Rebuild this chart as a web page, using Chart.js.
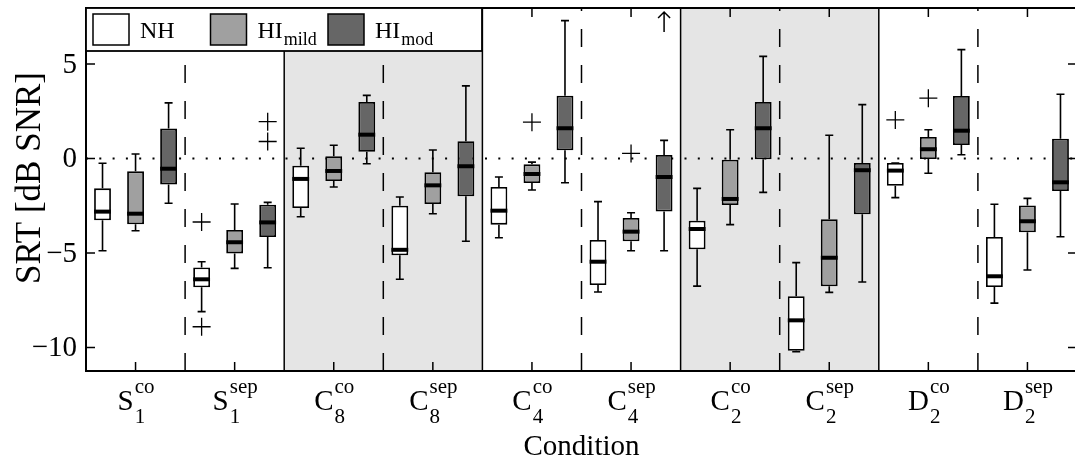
<!DOCTYPE html>
<html>
<head>
<meta charset="utf-8">
<script src="https://cdn.jsdelivr.net/npm/chart.js@4"></script>
<style>
  html, body { margin: 0; padding: 0; overflow: hidden; background: #fff; }
  #wrap { width: 1082px; height: 464px; }
</style>
</head>
<body>
<div id="wrap"><canvas id="srtChart"></canvas></div>
<script>
// --- data ---
const condBase = ['S', 'S', 'C', 'C', 'C', 'C', 'C', 'C', 'D', 'D'];
const condSub = ['1', '1', '8', '8', '4', '4', '2', '2', '2', '2'];
const condSup = ['co', 'sep', 'co', 'sep', 'co', 'sep', 'co', 'sep', 'co', 'sep'];
const conditions = condBase.map((b, i) => b + condSub[i] + condSup[i]);

const groupNames = ['NH', 'HI', 'HI'];
const groupSub = ['', 'mild', 'mod'];
const groupColors = ['#ffffff', '#a0a0a0', '#666666'];

// [low whisker, q1, median, q3, high whisker] per condition
const nhBox = [
  [-4.88, -3.27, -2.81, -1.58, -0.25],
  [-8.10, -6.81, -6.39, -5.76, -5.46],
  [-3.08, -2.62, -1.08, -0.38, 0.54],
  [-6.39, -5.12, -4.83, -2.50, -2.04],
  [-4.19, -3.50, -2.76, -1.51, -0.98],
  [-7.06, -6.69, -5.46, -4.31, -2.28],
  [-6.75, -4.80, -3.73, -3.29, -1.58],
  [-10.22, -10.17, -8.56, -7.29, -5.51],
  [-2.07, -1.44, -0.64, -0.24, -0.24],
  [-7.65, -6.80, -6.23, -4.15, -2.42]
];
const mildBox = [
  [-3.82, -3.48, -2.92, -0.68, 0.24],
  [-5.81, -5.02, -4.43, -3.78, -2.41],
  [-1.51, -1.19, -0.66, 0.12, 0.70],
  [-2.92, -2.41, -1.42, -0.73, 0.45],
  [-1.67, -1.30, -0.82, -0.31, -0.19],
  [-4.88, -4.38, -3.87, -3.15, -2.87],
  [-3.50, -2.46, -2.14, -0.06, 1.52],
  [-7.08, -6.76, -5.25, -3.22, 1.23],
  [-0.78, -0.03, 0.49, 1.14, 1.52],
  [-5.90, -3.90, -3.32, -2.48, -2.11]
];
const modBox = [
  [-2.37, -1.37, -0.54, 1.58, 2.94],
  [-5.78, -4.15, -3.38, -2.44, -2.32],
  [-0.28, 0.36, 1.26, 2.99, 3.34],
  [-4.38, -2.00, -0.41, 0.91, 3.84],
  [-1.28, 0.43, 1.60, 3.32, 7.29],
  [-4.88, -2.81, -0.98, 0.19, 0.96],
  [-1.79, -0.04, 1.60, 2.99, 5.40],
  [-6.53, -2.95, -0.62, -0.24, 2.85],
  [0.20, 0.71, 1.47, 3.31, 5.76],
  [-4.14, -1.72, -1.26, 1.05, 3.40]
];
const boxes = [nhBox, mildBox, modBox];

// [condition index, group index, value]
const outliers = [
  [1, 0, -3.36], [1, 0, -8.90],
  [1, 2, 1.95], [1, 2, 0.90],
  [4, 1, 1.92],
  [5, 1, 0.27],
  [8, 0, 2.04], [8, 1, 3.19]
];
// outlier beyond the top of the axis: [condition index, group index]
const offTop = [[5, 2]];

const yTicks = [-10, -5, 0, 5];
const shadedPairs = [2, 6];

const SERIF = '"Liberation Serif", "Times New Roman", serif';

// --- drawing helpers ---
const sketch = {
  id: 'sketch',
  beforeDatasetsDraw(chart) {
    const { ctx, chartArea: a, scales: { x, y } } = chart;
    const half = (x.getPixelForValue(1) - x.getPixelForValue(0)) / 2;
    ctx.save();
    ctx.fillStyle = '#e5e5e5';
    shadedPairs.forEach(i => {
      const l = x.getPixelForValue(i) - half, r = x.getPixelForValue(i + 1) + half;
      ctx.fillRect(l, a.top, r - l, a.bottom - a.top);
    });
    ctx.strokeStyle = '#000';
    // zero line
    ctx.lineWidth = 2;
    ctx.setLineDash([2, 11.3]);
    const y0 = y.getPixelForValue(0);
    ctx.beginPath(); ctx.moveTo(a.left, y0); ctx.lineTo(a.right, y0); ctx.stroke();
    // separators
    ctx.lineWidth = 1.5;
    for (let i = 0; i < conditions.length - 1; i++) {
      const px = x.getPixelForValue(i) + half;
      ctx.setLineDash(i % 2 === 0 ? [18, 18] : []);
      ctx.beginPath(); ctx.moveTo(px, a.bottom); ctx.lineTo(px, a.top); ctx.stroke();
    }
    ctx.restore();
  },
  afterDatasetsDraw(chart) {
    const { ctx, chartArea: a, scales: { x, y } } = chart;
    ctx.save();
    ctx.strokeStyle = '#000';
    ctx.setLineDash([]);

    // whiskers + medians
    boxes.forEach((set, g) => {
      const meta = chart.getDatasetMeta(g);
      set.forEach((b, i) => {
        const el = meta.data[i];
        const cx = el.x, w = el.width;
        const [lo, q1, med, q3, hi] = b.map(v => y.getPixelForValue(v));
        ctx.lineWidth = 1.6;
        ctx.beginPath();
        ctx.moveTo(cx, q3); ctx.lineTo(cx, hi);
        ctx.moveTo(cx - 4, hi); ctx.lineTo(cx + 4, hi);
        ctx.moveTo(cx, q1); ctx.lineTo(cx, lo);
        ctx.moveTo(cx - 4, lo); ctx.lineTo(cx + 4, lo);
        ctx.stroke();
        ctx.lineWidth = 4;
        ctx.beginPath(); ctx.moveTo(cx - w / 2, med); ctx.lineTo(cx + w / 2, med); ctx.stroke();
      });
    });

    // outliers
    ctx.lineWidth = 1.3;
    outliers.forEach(([i, g, v]) => {
      const cx = chart.getDatasetMeta(g).data[i].x, py = y.getPixelForValue(v);
      ctx.beginPath();
      ctx.moveTo(cx - 9, py); ctx.lineTo(cx + 9, py);
      ctx.moveTo(cx, py - 9); ctx.lineTo(cx, py + 9);
      ctx.stroke();
    });
    offTop.forEach(([i, g]) => {
      const cx = chart.getDatasetMeta(g).data[i].x;
      ctx.lineWidth = 1.5;
      ctx.beginPath();
      ctx.moveTo(cx, a.top + 24); ctx.lineTo(cx, a.top + 4);
      ctx.moveTo(cx - 6, a.top + 10); ctx.lineTo(cx, a.top + 4); ctx.lineTo(cx + 6, a.top + 10);
      ctx.stroke();
    });

    // frame and inward ticks
    ctx.lineWidth = 2;
    ctx.strokeRect(a.left, a.top, a.right - a.left, a.bottom - a.top);
    ctx.lineWidth = 1.5;
    ctx.beginPath();
    yTicks.forEach(v => {
      const py = y.getPixelForValue(v);
      ctx.moveTo(a.left, py); ctx.lineTo(a.left + 9, py);
      ctx.moveTo(a.right, py); ctx.lineTo(a.right - 9, py);
    });
    conditions.forEach((c, i) => {
      const px = x.getPixelForValue(i);
      ctx.moveTo(px, a.bottom); ctx.lineTo(px, a.bottom - 9);
      ctx.moveTo(px, a.top); ctx.lineTo(px, a.top + 9);
    });
    ctx.stroke();

    // y tick labels
    ctx.fillStyle = '#000';
    ctx.font = '29px ' + SERIF;
    ctx.textAlign = 'right';
    ctx.textBaseline = 'middle';
    yTicks.forEach(v => {
      ctx.fillText(String(v).replace('-', '\u2212'), a.left - 9, y.getPixelForValue(v) + 1);
    });

    // legend
    const lw = 396, lh = 43;
    ctx.fillStyle = '#fff';
    ctx.fillRect(a.left, a.top, lw, lh);
    ctx.lineWidth = 1.8;
    ctx.strokeRect(a.left, a.top, lw, lh);
    ctx.textBaseline = 'alphabetic';
    ctx.textAlign = 'left';
    groupNames.forEach((name, g) => {
      const sx = a.left + 7 + g * 117.5;
      ctx.fillStyle = groupColors[g];
      ctx.fillRect(sx, a.top + 6, 36, 31);
      ctx.lineWidth = 1.5;
      ctx.strokeRect(sx, a.top + 6, 36, 31);
      ctx.fillStyle = '#000';
      ctx.font = '24px ' + SERIF;
      ctx.fillText(name, sx + 47, a.top + 30);
      const nw = ctx.measureText(name).width;
      if (groupSub[g]) {
        ctx.font = '18px ' + SERIF;
        ctx.fillText(groupSub[g], sx + 47 + nw + 1, a.top + 37);
      }
    });

    // x tick labels with sub/superscripts
    ctx.fillStyle = '#000';
    conditions.forEach((c, i) => {
      const px = x.getPixelForValue(i);
      ctx.font = '29px ' + SERIF;
      const wb = ctx.measureText(condBase[i]).width;
      ctx.font = '21px ' + SERIF;
      const ws = Math.max(ctx.measureText(condSup[i]).width, ctx.measureText(condSub[i]).width);
      const sx = px - (wb + ws) / 2;
      ctx.font = '29px ' + SERIF;
      ctx.fillText(condBase[i], sx, a.bottom + 39);
      ctx.font = '21px ' + SERIF;
      ctx.fillText(condSup[i], sx + wb + 1, a.bottom + 22);
      ctx.fillText(condSub[i], sx + wb + 1, a.bottom + 52);
    });

    // axis titles
    ctx.textAlign = 'center';
    ctx.font = '29px ' + SERIF;
    ctx.fillText('Condition', (a.left + a.right) / 2, a.bottom + 84);
    ctx.translate(40, a.top + 170);
    ctx.rotate(-Math.PI / 2);
    ctx.font = '35px ' + SERIF;
    ctx.fillText('SRT [dB SNR]', 0, 0);
    ctx.restore();
  }
};

new Chart(document.getElementById('srtChart'), {
  type: 'bar',
  data: {
    labels: conditions,
    datasets: boxes.map((set, g) => ({
      label: groupNames[g] + groupSub[g],
      data: set.map(b => [b[1], b[3]]),
      backgroundColor: groupColors[g],
      borderColor: '#000',
      borderWidth: 1.8,
      borderSkipped: false,
      categoryPercentage: 1.0,
      barPercentage: 0.51
    }))
  },
  options: {
    responsive: true,
    maintainAspectRatio: false,
    animation: false,
    events: [],
    layout: { padding: { top: 8, right: 5, left: 0, bottom: 0 } },
    plugins: { legend: { display: false }, tooltip: { enabled: false } },
    scales: {
      x: {
        grid: { display: false },
        border: { display: false },
        ticks: { display: false },
        afterFit: s => { s.height = 93; }
      },
      y: {
        min: -11.24,
        max: 7.96,
        grid: { display: false, drawTicks: false },
        border: { display: false },
        ticks: { display: false },
        afterFit: s => { s.width = 86; },
        afterBuildTicks: s => { s.ticks = yTicks.map(v => ({ value: v })); }
      }
    }
  },
  plugins: [sketch]
});
</script>
</body>
</html>
